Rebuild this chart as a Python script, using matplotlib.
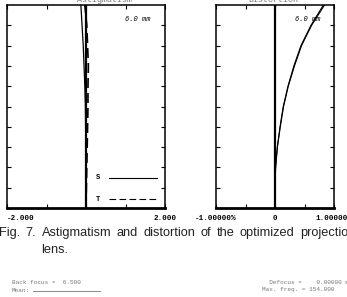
import numpy as np
import matplotlib.pyplot as plt

# field (relative height) and curve values
field = [0.0, 0.1, 0.2, 0.3, 0.4, 0.5, 0.6, 0.7, 0.8, 0.9, 1.0]
astig_s = [0.0, 0.0, 0.0, -0.005, -0.01, -0.015, -0.03, -0.05, -0.07, -0.1, -0.13]
astig_t = [0.0, 0.01, 0.02, 0.03, 0.04, 0.05, 0.05, 0.06, 0.04, 0.02, -0.03]
dist_s = [0.0, 0.0, 0.01, 0.04, 0.085, 0.14, 0.22, 0.32, 0.44, 0.61, 0.82]
dist_t = [0.0, 0.0, 0.01, 0.04, 0.09, 0.145, 0.225, 0.33, 0.45, 0.62, 0.84]

W, H = 347, 297
fig = plt.figure(figsize=(W / 100, H / 100), dpi=100)
mono = 'Liberation Mono'


def frame(ax, xlim, xticks, xlabels):
    ax.set_xlim(*xlim)
    ax.set_ylim(0, 1)
    ax.set_xticks(xticks)
    ax.set_xticklabels(xlabels, family=mono, weight='bold', fontsize=5.5)
    ax.set_yticks(np.arange(0.1, 1.0, 0.1))
    ax.set_yticklabels([])
    ax.tick_params(direction='in', length=3, width=0.8, top=True, right=True, pad=5)
    for s in ax.spines.values():
        s.set_linewidth(1.1)
    ax.spines['bottom'].set_linewidth(2)
    ax.axvline(0, color='black', lw=1.6)


# left: astigmatism
ax1 = fig.add_axes([7 / W, (H - 208) / H, 158 / W, 203 / H])
frame(ax1, (-2, 2), [-2, -1, 0, 1, 2], ['-2.000', '', '', '', '2.000'])
ax1.get_xticklabels()[0].set_ha('left')
ax1.get_xticklabels()[0].set_x(-2.1)
ax1.plot(astig_s, field, color='black', lw=0.9)
ax1.plot(astig_t, field, color='black', lw=1.2, dashes=(6, 3))
ax1.text(0.83, 0.93, '6.0 mm', transform=ax1.transAxes, family=mono,
         fontsize=5, ha='center', va='center', style='italic')
ax1.text(0.576, 0.148, 'S', transform=ax1.transAxes, family=mono, weight='bold',
         fontsize=5, ha='center', va='center')
ax1.plot([0.646, 0.95], [0.148, 0.148], transform=ax1.transAxes, color='black', lw=0.8)
ax1.text(0.576, 0.044, 'T', transform=ax1.transAxes, family=mono, weight='bold',
         fontsize=5, ha='center', va='center')
ax1.plot([0.646, 0.95], [0.044, 0.044], transform=ax1.transAxes, color='black',
         lw=0.8, dashes=(6, 3))

# right: distortion
ax2 = fig.add_axes([216 / W, (H - 208) / H, 118 / W, 203 / H])
frame(ax2, (-1, 1), [-1, -0.5, 0, 0.5, 1], ['-1.00000%', '', '0', '', '1.00000%'])
ax2.plot(dist_s, field, color='black', lw=0.8)
ax2.plot(dist_t, field, color='black', lw=0.8)
ax2.text(0.78, 0.93, '6.0 mm', transform=ax2.transAxes, family=mono,
         fontsize=5, ha='center', va='center', style='italic')

# titles cut off at the top of the scan
fig.text(105 / W, 1.0, 'Astigmatism', family=mono, fontsize=6, color='#777777',
         ha='center', va='center')
fig.text(273 / W, 1.0, 'Distortion', family=mono, fontsize=6, color='#777777',
         ha='center', va='center')

# caption: justified line, "projectio" runs to the right edge
cap = dict(family='Liberation Sans', fontsize=9.2, color='#222222', va='center')
words = ['Fig.', '7.', 'Astigmatism', 'and', 'distortion', 'of', 'the',
         'optimized', 'projection']
r = fig.canvas.get_renderer()
widths = []
for w in words[:-1] + ['projectio']:
    t = fig.text(0, 0, w, **cap)
    widths.append(t.get_window_extent(r).width)
    t.remove()
x0, x1 = -1, 348
gap = (x1 - x0 - sum(widths)) / (len(words) - 1)
x = x0
yc = 1 - 233 / H
for w, wd in zip(words, widths):
    fig.text(x / W, yc, w, **cap)
    if w == 'Astigmatism':
        fig.text(x / W, 1 - 250 / H, 'lens.', **cap)
    x += wd + gap

# bits of the next figure
small = dict(family=mono, fontsize=4.3, color='#777777', va='center')
fig.text(12 / W, 1 - 282 / H, 'Back focus =  6.500', **small)
fig.text(12 / W, 1 - 290 / H, 'Mean:', **small)
fig.add_artist(plt.Line2D([33 / W, 100 / W], [1 - 291 / H, 1 - 291 / H],
                          color='#777777', lw=0.6))
fig.text(262 / W, 1 - 282 / H, '  Defocus =    0.00000 mm', **small)
fig.text(262 / W, 1 - 290 / H, 'Max. freq. = 154.000', **small)

fig.savefig('out.png', dpi=100)
